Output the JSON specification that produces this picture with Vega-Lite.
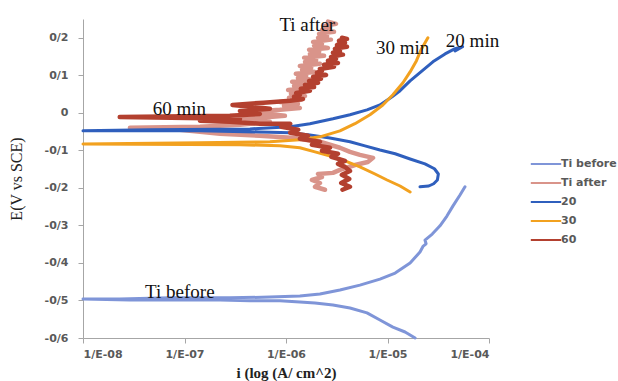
{
"$schema": "https://vega.github.io/schema/vega-lite/v6.json",
"width": 406, "height": 319,
"autosize": "none",
"padding": {"left": 83, "top": 19, "right": 129, "bottom": 43},
"background": "white",
"config": {"view": {"stroke": null}},
"datasets": {
"curves": [
{"s":"Ti before","k":1,"i":1.87e-5,"E":-0.6},{"s":"Ti before","k":2,"i":1.49e-5,"E":-0.584},{"s":"Ti before","k":3,"i":1.13e-5,"E":-0.571},{"s":"Ti before","k":4,"i":8.43e-6,"E":-0.552},{"s":"Ti before","k":5,"i":6.28e-6,"E":-0.533},{"s":"Ti before","k":6,"i":4.27e-6,"E":-0.52},{"s":"Ti before","k":7,"i":2.9e-6,"E":-0.512},{"s":"Ti before","k":8,"i":1.93e-6,"E":-0.507},{"s":"Ti before","k":9,"i":1.37e-6,"E":-0.504},{"s":"Ti before","k":10,"i":8.71e-7,"E":-0.501},{"s":"Ti before","k":11,"i":4.41e-7,"E":-0.501},{"s":"Ti before","k":12,"i":2.24e-7,"E":-0.499},{"s":"Ti before","k":13,"i":8.6e-8,"E":-0.499},{"s":"Ti before","k":14,"i":2.9e-8,"E":-0.499},{"s":"Ti before","k":15,"i":1.0e-8,"E":-0.496},{"s":"Ti before","k":16,"i":2.3e-8,"E":-0.496},{"s":"Ti before","k":17,"i":7.2e-8,"E":-0.493},{"s":"Ti before","k":18,"i":2.8e-7,"E":-0.493},{"s":"Ti before","k":19,"i":6.94e-7,"E":-0.491},{"s":"Ti before","k":20,"i":1.37e-6,"E":-0.488},{"s":"Ti before","k":21,"i":2.16e-6,"E":-0.483},{"s":"Ti before","k":22,"i":3.4e-6,"E":-0.472},{"s":"Ti before","k":23,"i":5.35e-6,"E":-0.459},{"s":"Ti before","k":24,"i":8.43e-6,"E":-0.443},{"s":"Ti before","k":25,"i":1.19e-5,"E":-0.427},{"s":"Ti before","k":26,"i":1.67e-5,"E":-0.4},{"s":"Ti before","k":27,"i":2.09e-5,"E":-0.371},{"s":"Ti before","k":28,"i":2.25e-5,"E":-0.355},{"s":"Ti before","k":29,"i":2.4e-5,"E":-0.349},{"s":"Ti before","k":30,"i":2.34e-5,"E":-0.339},{"s":"Ti before","k":31,"i":2.76e-5,"E":-0.323},{"s":"Ti before","k":32,"i":3.29e-5,"E":-0.301},{"s":"Ti before","k":33,"i":3.85e-5,"E":-0.275},{"s":"Ti before","k":34,"i":4.42e-5,"E":-0.248},{"s":"Ti before","k":35,"i":5.18e-5,"E":-0.219},{"s":"Ti before","k":36,"i":5.8e-5,"E":-0.197},

{"s":"Ti after","k":1,"i":2.42e-6,"E":-0.205},{"s":"Ti after","k":2,"i":1.93e-6,"E":-0.197},{"s":"Ti after","k":3,"i":2.16e-6,"E":-0.187},{"s":"Ti after","k":4,"i":1.8e-6,"E":-0.179},{"s":"Ti after","k":5,"i":2.26e-6,"E":-0.171},{"s":"Ti after","k":6,"i":2.07e-6,"E":-0.163},{"s":"Ti after","k":7,"i":2.9e-6,"E":-0.16},{"s":"Ti after","k":8,"i":3.4e-6,"E":-0.152},{"s":"Ti after","k":9,"i":4.78e-6,"E":-0.139},{"s":"Ti after","k":10,"i":6.4e-6,"E":-0.131},{"s":"Ti after","k":11,"i":7.2e-6,"E":-0.12},{"s":"Ti after","k":12,"i":5.35e-6,"E":-0.112},{"s":"Ti after","k":13,"i":4.27e-6,"E":-0.104},{"s":"Ti after","k":14,"i":3.4e-6,"E":-0.093},{"s":"Ti after","k":15,"i":2.71e-6,"E":-0.085},{"s":"Ti after","k":16,"i":2.16e-6,"E":-0.077},{"s":"Ti after","k":17,"i":1.54e-6,"E":-0.072},{"s":"Ti after","k":18,"i":1.23e-6,"E":-0.067},{"s":"Ti after","k":19,"i":5.53e-7,"E":-0.061},{"s":"Ti after","k":20,"i":2.24e-7,"E":-0.056},{"s":"Ti after","k":21,"i":9.0e-8,"E":-0.045},{"s":"Ti after","k":22,"i":2.9e-8,"E":-0.04},{"s":"Ti after","k":23,"i":1.42e-7,"E":-0.037},{"s":"Ti after","k":24,"i":3.52e-7,"E":-0.032},{"s":"Ti after","k":25,"i":6.94e-7,"E":-0.024},{"s":"Ti after","k":26,"i":2.8e-7,"E":-0.019},{"s":"Ti after","k":27,"i":5.53e-7,"E":-0.013},{"s":"Ti after","k":28,"i":9.76e-7,"E":-0.008},{"s":"Ti after","k":29,"i":4.41e-7,"E":0.003},{"s":"Ti after","k":30,"i":8.71e-7,"E":0.008},
{"s":"Ti after","k":31,"i":1.37e-6,"E":0.013},{"s":"Ti after","k":32,"i":9.56e-7,"E":0.019},{"s":"Ti after","k":33,"i":1.31e-6,"E":0.024},{"s":"Ti after","k":34,"i":8.71e-7,"E":0.029},{"s":"Ti after","k":35,"i":1.41e-6,"E":0.035},{"s":"Ti after","k":36,"i":1.07e-6,"E":0.04},{"s":"Ti after","k":37,"i":1.54e-6,"E":0.045},{"s":"Ti after","k":38,"i":1.12e-6,"E":0.051},{"s":"Ti after","k":39,"i":1.34e-6,"E":0.056},{"s":"Ti after","k":40,"i":1.05e-6,"E":0.061},{"s":"Ti after","k":41,"i":1.69e-6,"E":0.067},{"s":"Ti after","k":42,"i":1.2e-6,"E":0.072},{"s":"Ti after","k":43,"i":1.47e-6,"E":0.077},{"s":"Ti after","k":44,"i":1.15e-6,"E":0.083},{"s":"Ti after","k":45,"i":1.81e-6,"E":0.088},{"s":"Ti after","k":46,"i":1.31e-6,"E":0.093},{"s":"Ti after","k":47,"i":1.58e-6,"E":0.099},{"s":"Ti after","k":48,"i":1.25e-6,"E":0.104},{"s":"Ti after","k":49,"i":1.93e-6,"E":0.109},{"s":"Ti after","k":50,"i":1.44e-6,"E":0.115},{"s":"Ti after","k":51,"i":1.77e-6,"E":0.12},{"s":"Ti after","k":52,"i":1.37e-6,"E":0.125},{"s":"Ti after","k":53,"i":2.16e-6,"E":0.131},{"s":"Ti after","k":54,"i":1.54e-6,"E":0.136},{"s":"Ti after","k":55,"i":1.98e-6,"E":0.141},{"s":"Ti after","k":56,"i":1.51e-6,"E":0.147},{"s":"Ti after","k":57,"i":2.37e-6,"E":0.152},{"s":"Ti after","k":58,"i":1.72e-6,"E":0.157},{"s":"Ti after","k":59,"i":2.12e-6,"E":0.163},{"s":"Ti after","k":60,"i":1.69e-6,"E":0.168},{"s":"Ti after","k":61,"i":2.59e-6,"E":0.173},{"s":"Ti after","k":62,"i":1.89e-6,"E":0.179},{"s":"Ti after","k":63,"i":2.26e-6,"E":0.184},{"s":"Ti after","k":64,"i":1.85e-6,"E":0.189},{"s":"Ti after","k":65,"i":2.77e-6,"E":0.195},{"s":"Ti after","k":66,"i":2.07e-6,"E":0.2},{"s":"Ti after","k":67,"i":2.54e-6,"E":0.205},{"s":"Ti after","k":68,"i":2.12e-6,"E":0.211},{"s":"Ti after","k":69,"i":2.97e-6,"E":0.216},{"s":"Ti after","k":70,"i":2.26e-6,"E":0.221},{"s":"Ti after","k":71,"i":2.71e-6,"E":0.227},{"s":"Ti after","k":72,"i":2.42e-6,"E":0.232},{"s":"Ti after","k":73,"i":3.11e-6,"E":0.237},{"s":"Ti after","k":74,"i":2.59e-6,"E":0.243},

{"s":"20","k":1,"i":2.09e-5,"E":-0.197},{"s":"20","k":2,"i":2.55e-5,"E":-0.195},{"s":"20","k":3,"i":2.85e-5,"E":-0.189},{"s":"20","k":4,"i":3.1e-5,"E":-0.179},{"s":"20","k":5,"i":3.17e-5,"E":-0.163},{"s":"20","k":6,"i":2.9e-5,"E":-0.149},{"s":"20","k":7,"i":2.34e-5,"E":-0.136},{"s":"20","k":8,"i":1.67e-5,"E":-0.123},{"s":"20","k":9,"i":1.19e-5,"E":-0.109},{"s":"20","k":10,"i":8.43e-6,"E":-0.099},{"s":"20","k":11,"i":6.0e-6,"E":-0.088},{"s":"20","k":12,"i":4.27e-6,"E":-0.077},{"s":"20","k":13,"i":2.71e-6,"E":-0.067},{"s":"20","k":14,"i":1.72e-6,"E":-0.059},{"s":"20","k":15,"i":1.1e-6,"E":-0.053},{"s":"20","k":16,"i":5.53e-7,"E":-0.051},{"s":"20","k":17,"i":1.42e-7,"E":-0.048},{"s":"20","k":18,"i":1.0e-8,"E":-0.048},{"s":"20","k":19,"i":4.6e-8,"E":-0.045},{"s":"20","k":20,"i":4.41e-7,"E":-0.043},{"s":"20","k":21,"i":1.1e-6,"E":-0.037},{"s":"20","k":22,"i":1.72e-6,"E":-0.029},{"s":"20","k":23,"i":2.9e-6,"E":-0.016},{"s":"20","k":24,"i":4.27e-6,"E":-0.005},{"s":"20","k":25,"i":6.28e-6,"E":0.008},{"s":"20","k":26,"i":8.43e-6,"E":0.021},{"s":"20","k":27,"i":1.11e-5,"E":0.043},{"s":"20","k":28,"i":1.33e-5,"E":0.059},{"s":"20","k":29,"i":1.67e-5,"E":0.085},{"s":"20","k":30,"i":2.09e-5,"E":0.107},{"s":"20","k":31,"i":2.8e-5,"E":0.136},{"s":"20","k":32,"i":3.69e-5,"E":0.157},{"s":"20","k":33,"i":4.63e-5,"E":0.171},{"s":"20","k":34,"i":5.5e-5,"E":0.176},{"s":"20","k":35,"i":4.63e-5,"E":0.165},

{"s":"30","k":1,"i":1.67e-5,"E":-0.211},{"s":"30","k":2,"i":1.33e-5,"E":-0.195},{"s":"30","k":3,"i":9.9e-6,"E":-0.179},{"s":"30","k":4,"i":7.53e-6,"E":-0.163},{"s":"30","k":5,"i":5.35e-6,"E":-0.144},{"s":"30","k":6,"i":3.81e-6,"E":-0.128},{"s":"30","k":7,"i":2.9e-6,"E":-0.117},{"s":"30","k":8,"i":1.93e-6,"E":-0.104},{"s":"30","k":9,"i":1.37e-6,"E":-0.093},{"s":"30","k":10,"i":8.71e-7,"E":-0.088},{"s":"30","k":11,"i":3.52e-7,"E":-0.085},{"s":"30","k":12,"i":1.0e-8,"E":-0.083},{"s":"30","k":13,"i":1.42e-7,"E":-0.08},{"s":"30","k":14,"i":6.94e-7,"E":-0.077},{"s":"30","k":15,"i":1.37e-6,"E":-0.072},{"s":"30","k":16,"i":2.16e-6,"E":-0.064},{"s":"30","k":17,"i":3.4e-6,"E":-0.048},{"s":"30","k":18,"i":4.78e-6,"E":-0.029},{"s":"30","k":19,"i":6.72e-6,"E":-0.005},{"s":"30","k":20,"i":9.0e-6,"E":0.021},{"s":"30","k":21,"i":1.13e-5,"E":0.048},{"s":"30","k":22,"i":1.42e-5,"E":0.08},{"s":"30","k":23,"i":1.67e-5,"E":0.109},{"s":"30","k":24,"i":1.93e-5,"E":0.139},{"s":"30","k":25,"i":2.14e-5,"E":0.168},{"s":"30","k":26,"i":2.5e-5,"E":0.2},

{"s":"60","k":1,"i":3.6e-6,"E":-0.205},{"s":"60","k":2,"i":4.27e-6,"E":-0.197},{"s":"60","k":3,"i":3.5e-6,"E":-0.187},{"s":"60","k":4,"i":4.2e-6,"E":-0.176},{"s":"60","k":5,"i":3.55e-6,"E":-0.165},{"s":"60","k":6,"i":4.27e-6,"E":-0.155},{"s":"60","k":7,"i":3.81e-6,"E":-0.144},{"s":"60","k":8,"i":3.25e-6,"E":-0.136},{"s":"60","k":9,"i":3.81e-6,"E":-0.128},{"s":"60","k":10,"i":2.8e-6,"E":-0.117},{"s":"60","k":11,"i":3.25e-6,"E":-0.109},{"s":"60","k":12,"i":2.26e-6,"E":-0.101},{"s":"60","k":13,"i":2.71e-6,"E":-0.093},{"s":"60","k":14,"i":1.8e-6,"E":-0.085},{"s":"60","k":15,"i":2.16e-6,"E":-0.077},{"s":"60","k":16,"i":1.37e-6,"E":-0.069},{"s":"60","k":17,"i":1.65e-6,"E":-0.061},{"s":"60","k":18,"i":1.1e-6,"E":-0.053},{"s":"60","k":19,"i":1.32e-6,"E":-0.045},{"s":"60","k":20,"i":9.0e-7,"E":-0.037},{"s":"60","k":21,"i":1.1e-6,"E":-0.029},{"s":"60","k":22,"i":5.53e-7,"E":-0.029},{"s":"60","k":23,"i":2.8e-7,"E":-0.024},{"s":"60","k":24,"i":1.42e-7,"E":-0.021},{"s":"60","k":25,"i":3.52e-7,"E":-0.016},{"s":"60","k":26,"i":2.3e-8,"E":-0.011},{"s":"60","k":27,"i":2.8e-7,"E":-0.008},{"s":"60","k":28,"i":5.53e-7,"E":-0.003},{"s":"60","k":29,"i":3.52e-7,"E":0.005},{"s":"60","k":30,"i":6.94e-7,"E":0.011},{"s":"60","k":31,"i":2.97e-7,"E":0.021},{"s":"60","k":32,"i":6.0e-7,"E":0.027},
{"s":"60","k":33,"i":1.1e-6,"E":0.032},{"s":"60","k":34,"i":1.47e-6,"E":0.037},{"s":"60","k":35,"i":1.2e-6,"E":0.043},{"s":"60","k":36,"i":1.37e-6,"E":0.048},{"s":"60","k":37,"i":1.26e-6,"E":0.053},{"s":"60","k":38,"i":1.72e-6,"E":0.059},{"s":"60","k":39,"i":1.4e-6,"E":0.064},{"s":"60","k":40,"i":1.89e-6,"E":0.069},{"s":"60","k":41,"i":1.54e-6,"E":0.075},{"s":"60","k":42,"i":2.07e-6,"E":0.08},{"s":"60","k":43,"i":1.69e-6,"E":0.085},{"s":"60","k":44,"i":2.21e-6,"E":0.091},{"s":"60","k":45,"i":1.85e-6,"E":0.096},{"s":"60","k":46,"i":2.48e-6,"E":0.101},{"s":"60","k":47,"i":2.02e-6,"E":0.107},{"s":"60","k":48,"i":2.26e-6,"E":0.112},{"s":"60","k":49,"i":2.16e-6,"E":0.117},{"s":"60","k":50,"i":2.97e-6,"E":0.123},{"s":"60","k":51,"i":2.37e-6,"E":0.128},{"s":"60","k":52,"i":3.25e-6,"E":0.133},{"s":"60","k":53,"i":2.59e-6,"E":0.139},{"s":"60","k":54,"i":3.11e-6,"E":0.144},{"s":"60","k":55,"i":2.78e-6,"E":0.149},{"s":"60","k":56,"i":3.64e-6,"E":0.155},{"s":"60","k":57,"i":2.9e-6,"E":0.16},{"s":"60","k":58,"i":3.4e-6,"E":0.165},{"s":"60","k":59,"i":3.04e-6,"E":0.171},{"s":"60","k":60,"i":3.99e-6,"E":0.176},{"s":"60","k":61,"i":3.18e-6,"E":0.181},{"s":"60","k":62,"i":3.81e-6,"E":0.187},{"s":"60","k":63,"i":3.33e-6,"E":0.192},{"s":"60","k":64,"i":3.99e-6,"E":0.197},{"s":"60","k":65,"i":3.56e-6,"E":0.2}
],
"labels": [
{"t":"Ti after","i":1.62e-6,"E":0.235},
{"t":"30 min","i":1.41e-5,"E":0.173},
{"t":"20 min","i":6.88e-5,"E":0.192},
{"t":"60 min","i":8.9e-8,"E":0.011},
{"t":"Ti before","i":9.0e-8,"E":-0.477}
]
},
"encoding": {
"x": {"field": "i", "type": "quantitative",
  "scale": {"type": "log", "domain": [1e-8, 1e-4], "nice": false},
  "axis": {"values": [1e-8, 1e-7, 1e-6, 1e-5, 1e-4], "tickCount": 10, "labelExpr": "'1/E-0' + abs(round(log(datum.value)/LN10))", "labelOverlap": false,
    "title": "i (log (A/ cm^2)", "grid": false, "domainColor": "#a6a6a6", "tickColor": "#a6a6a6", "tickSize": 5,
    "labelFont": "DejaVu Sans", "labelFontWeight": "bold", "labelFontSize": 11, "labelColor": "#595959", "labelPadding": 5,
    "titleFont": "Liberation Serif", "titleFontSize": 15, "titleFontWeight": "bold", "titleColor": "#222222", "titlePadding": 6}},
"y": {"field": "E", "type": "quantitative",
  "scale": {"domain": [-0.6, 0.25], "nice": false, "zero": false},
  "axis": {"values": [-0.6, -0.5, -0.4, -0.3, -0.2, -0.1, 0, 0.1, 0.2], "tickCount": 12, "labelOverlap": false,
    "labelExpr": "datum.value == 0 ? '0' : (datum.value < 0 ? '-' : '') + '0/' + round(abs(datum.value) * 10)",
    "title": "E(V vs SCE)", "grid": false, "domainColor": "#a6a6a6", "tickColor": "#a6a6a6", "tickSize": 5,
    "labelFont": "DejaVu Sans", "labelFontWeight": "bold", "labelFontSize": 11, "labelColor": "#595959", "labelPadding": 10,
    "titleFont": "Liberation Serif", "titleFontSize": 16, "titleFontWeight": "normal", "titleColor": "#222222", "titlePadding": 20}}
},
"layer": [
{
"data": {"name": "curves"},
"transform": [{"filter": "datum.s == 'Ti before'"}],
"mark": {"type": "line", "strokeWidth": 3, "strokeJoin": "round", "strokeCap": "round"},
"encoding": {
"color": {"field": "s", "type": "nominal",
  "scale": {"domain": ["Ti before", "Ti after", "20", "30", "60"], "range": ["#7f95d8", "#d9948a", "#2f5fbd", "#f2a11f", "#b3402f"]},
  "legend": {"title": null, "orient": "none", "legendX": 454, "legendY": 136, "symbolType": "M-1.9,0H1.9", "symbolSize": 256,
    "symbolStrokeWidth": 2, "labelFont": "DejaVu Sans", "labelFontWeight": "bold", "labelFontSize": 11, "labelColor": "#595959",
    "labelOffset": 6, "rowPadding": 5, "labelLimit": 200,
    "encode": {"symbols": {"enter": {"strokeWidth": {"value": 2}}, "update": {"strokeWidth": {"value": 2}}}}}},
"order": {"field": "k", "type": "quantitative"}
}
},
{
"data": {"name": "curves"},
"transform": [{"filter": "datum.s == 'Ti after'"}],
"mark": {"type": "line", "strokeWidth": 4.5, "strokeJoin": "round", "strokeCap": "round"},
"encoding": {
"color": {"field": "s", "type": "nominal"},
"order": {"field": "k", "type": "quantitative"}
}
},
{
"data": {"name": "curves"},
"transform": [{"filter": "datum.s == '20' || datum.s == '30'"}],
"mark": {"type": "line", "strokeWidth": 3, "strokeJoin": "round", "strokeCap": "round"},
"encoding": {
"color": {"field": "s", "type": "nominal"},
"order": {"field": "k", "type": "quantitative"}
}
},
{
"data": {"name": "curves"},
"transform": [{"filter": "datum.s == '60'"}],
"mark": {"type": "line", "strokeWidth": 4.5, "strokeJoin": "round", "strokeCap": "round"},
"encoding": {
"color": {"field": "s", "type": "nominal"},
"order": {"field": "k", "type": "quantitative"}
}
},
{
"data": {"name": "labels"},
"mark": {"type": "text", "font": "Liberation Serif", "fontSize": 19, "color": "#111111", "align": "center", "baseline": "middle"},
"encoding": {
"text": {"field": "t"}
}
}
]
}
